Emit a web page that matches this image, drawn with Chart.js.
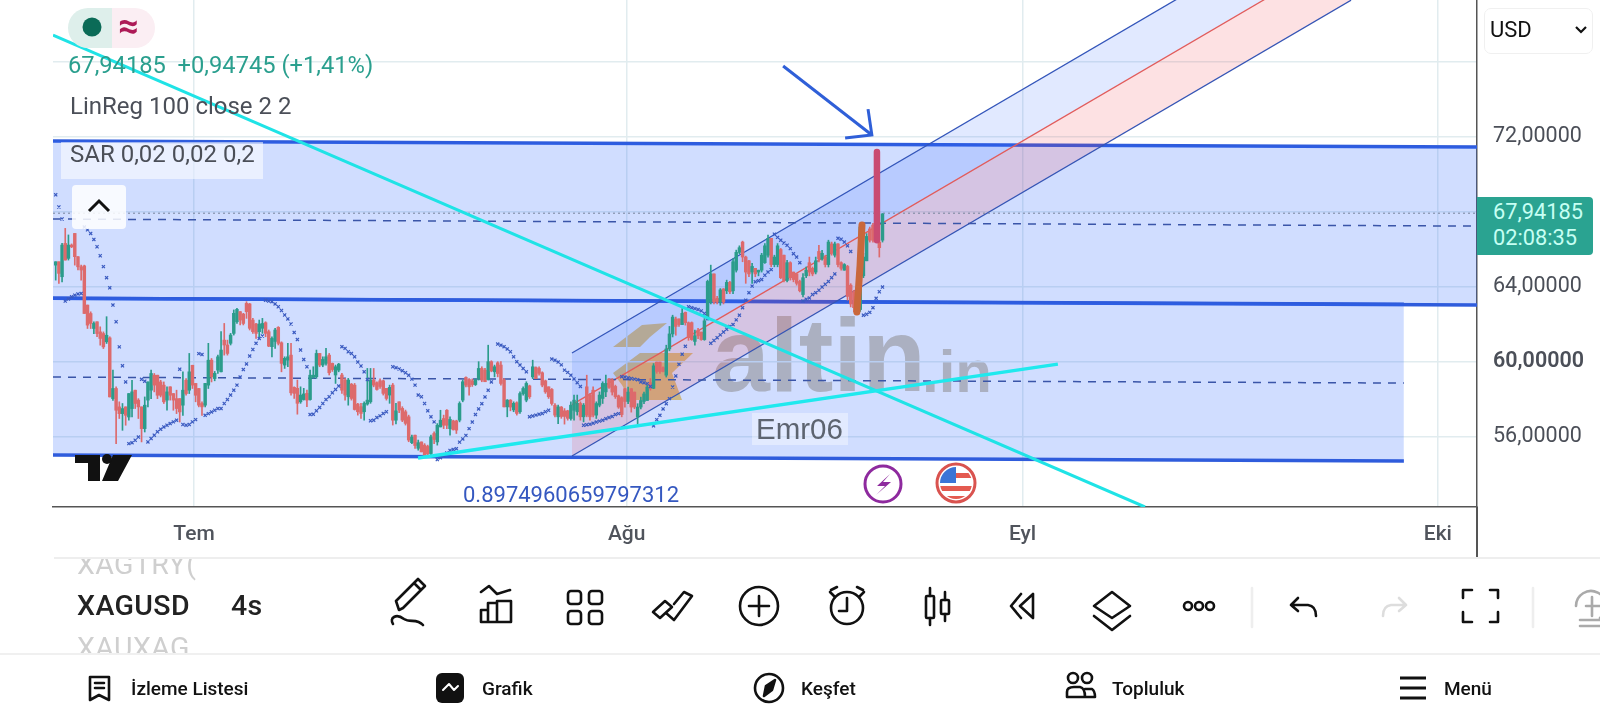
<!DOCTYPE html>
<html>
<head>
<meta charset="utf-8">
<title>XAGUSD</title>
<script src="https://cdn.jsdelivr.net/npm/chart.js@4/dist/chart.umd.min.js"></script>
<style>
html, body { margin: 0; padding: 0; background: #fff; }
#page { position: relative; width: 1600px; height: 720px; overflow: hidden; font-family: Roboto, sans-serif; background: #fff; }
#page > * { position: absolute; }
#chart { left: 0; top: 0; }
.t { white-space: pre; line-height: 1; transform: translateY(-50%); }
.nav { font-size: 19px; font-weight: 500; color: #111; }
.sym { font-size: 28.5px; font-weight: 500; color: #222; letter-spacing: .4px; }
.fade { color: #cfcfcf; font-weight: 400; }
</style>
</head>
<body>
<div id="page">
  <svg style="left:0;top:0" width="1600" height="720">
    <polygon points="613,347 642,325 667,323 650,337 640,347" fill="rgb(250,205,100)"/>
    <polygon points="613,373 640,353 693,353 672,373 682,400 630,400 622,385" fill="rgb(250,205,100)"/>
  </svg>
  <div class="t" style="left:712px;top:355px;font:bold 104px 'Liberation Sans';color:rgb(208,198,176)">altin</div>
  <div class="t" style="left:922px;top:371px;font:bold 60px 'Liberation Sans';color:rgb(208,198,176)">.in</div>

  <canvas id="chart" width="1600" height="720"></canvas>

  <!-- top left legend -->
  <svg style="left:0;top:0" width="170" height="50">
    <path d="M112 8 H88 a20 20 0 0 0 0 40 H112 Z" fill="#deefeb"/>
    <path d="M112 8 H135 a20 20 0 0 1 0 40 H112 Z" fill="#fbeef3"/>
    <circle cx="92" cy="27" r="9.5" fill="#0b6b57"/>
  </svg>
  <div class="t" style="left:118px;top:26px;font-size:36px;font-weight:700;color:#ad1a57">≈</div>
  <div class="t" style="left:68px;top:66px;font-size:23.7px;color:#2a9f8e">67,94185  +0,94745 (+1,41%)</div>
  <div class="t" style="left:70px;top:106px;font-size:24px;color:#4b4f58">LinReg 100 close 2 2</div>
  <div style="left:61px;top:142px;width:202px;height:37px;background:rgba(255,255,255,.55)"></div>
  <div class="t" style="left:70px;top:154px;font-size:24px;color:#4b4f58">SAR 0,02 0,02 0,2</div>
  <div style="left:72px;top:185px;width:54px;height:44px;border-radius:4px;background:rgba(255,255,255,.85)"></div>
  <svg style="left:72px;top:185px" width="54" height="44"><path d="M17 26 L27 16 L37 26" fill="none" stroke="#111" stroke-width="3"/></svg>

  <!-- currency box and last price -->
  <div style="left:1484px;top:8px;width:107px;height:44px;border:1px solid #f0f0f0;border-radius:7px"></div>
  <div class="t" style="left:1490px;top:30px;font-size:22px;color:#111">USD</div>
  <svg style="left:1574px;top:25px" width="14" height="10"><path d="M2 2 L7 7 L12 2" fill="none" stroke="#111" stroke-width="2.2"/></svg>
  <div style="left:1477px;top:197px;width:116px;height:58px;background:#2aa391;border-radius:0 4px 4px 0"></div>
  <div class="t" style="left:1493px;top:212px;font-size:21.8px;color:#c6fff3">67,94185</div>
  <div class="t" style="left:1493px;top:238px;font-size:21.8px;color:#c6fff3">02:08:35</div>
  <div style="left:1476px;top:507px;width:2px;height:51px;background:#555"></div>

  <!-- labels on the chart -->
  <div style="left:752px;top:413px;width:96px;height:32px;background:rgba(255,255,255,.38)"></div>
  <div class="t" style="left:756px;top:429px;font:29.5px 'Liberation Sans';color:#5d6470">Emr06</div>
  <div class="t" style="left:463px;top:495px;font-size:22px;color:#3558c0">0.8974960659797312</div>
  <svg style="left:0;top:0" width="1100" height="507">
    <path d="M75 455 H100 V481 H88 V463 H75 Z M102 481 L113 455 H132 L118 481 Z" fill="#111"/>
    <circle cx="107" cy="459" r="5" fill="#111"/>
    <circle cx="883" cy="484" r="18" fill="#fff" stroke="#8e2a9e" stroke-width="3"/>
    <path d="M890 474 L877 486 H885 L876 495 L891 482 H883 Z" fill="#8e2a9e"/>
    <clipPath id="flag"><circle cx="956" cy="483" r="16"/></clipPath>
    <circle cx="956" cy="483" r="19" fill="#fff" stroke="#d9534f" stroke-width="3"/>
    <g clip-path="url(#flag)">
      <rect x="940" y="467" width="32" height="32" fill="#fff"/>
      <rect x="956" y="473" width="16" height="5" fill="#e45a50"/>
      <rect x="940" y="486" width="32" height="5" fill="#e45a50"/>
      <rect x="940" y="496" width="32" height="5" fill="#e45a50"/>
      <rect x="940" y="467" width="16" height="16" fill="#3b74d6"/>
    </g>
  </svg>

  <!-- symbol strip -->
  <div style="left:54px;top:557px;width:1546px;height:2px;background:#eee"></div>
  <div style="left:0;top:653px;width:1600px;height:2px;background:#f0f0f0"></div>
  <div style="left:0;top:559px;width:240px;height:94px;overflow:hidden">
    <div class="t sym fade" style="position:absolute;left:77px;top:6px">XAGTRY(</div>
    <div class="t sym" style="position:absolute;left:77px;top:47px">XAGUSD</div>
    <div class="t sym fade" style="position:absolute;left:77px;top:89px">XAUXAG</div>
  </div>
  <div class="t sym" style="left:231px;top:606px">4s</div>

  <!-- toolbar and bottom nav icons -->
  <svg style="left:0;top:0" width="1600" height="720" fill="none" stroke="#111" stroke-width="2.6" stroke-linecap="round" stroke-linejoin="round">
    <path d="M399 610 L396 601 L418 579 L425 586 L403 608 Z M414 583 L421 590"/>
    <path d="M393 624 C389 618 396 613 404 619 C410 623 417 618 423 625"/>
    <path d="M481 592 L489 586 L497 594 L510 590 M481 622 V610 H488 V622 Z M488 622 V603 H497 V622 M497 622 V601 H511 V622 H481"/>
    <rect x="568" y="591" width="13" height="13" rx="3"/><rect x="589" y="591" width="13" height="13" rx="3"/>
    <rect x="568" y="611" width="13" height="13" rx="3"/><rect x="589" y="611" width="13" height="13" rx="3"/>
    <path d="M653 612 L665 601 L672 607 L660 618 Z M666 613 L674 620 L692 596 L684 592 L674 604"/>
    <circle cx="759" cy="606" r="19"/><path d="M759 596 V616 M749 606 H769"/>
    <circle cx="847" cy="608" r="16"/><path d="M847 598 V611 H839 M831 590 L837 587 M863 590 L857 587 M830 592 L835 597 M864 592 L859 597"/>
    <rect x="926" y="596" width="8" height="22" rx="1"/><path d="M930 588 V596 M930 618 V625"/>
    <rect x="941" y="600" width="8" height="14" rx="1"/><path d="M945 592 V600 M945 614 V621"/>
    <path d="M1021 594 L1011 606 L1021 618 M1033 594 L1020 606 L1033 618 V594"/>
    <path d="M1112 592 L1130 606 L1112 618 L1094 606 Z M1094 616 L1112 630 L1130 616"/>
    <circle cx="1188" cy="606" r="4"/><circle cx="1199" cy="606" r="4"/><circle cx="1210" cy="606" r="4"/>
    <path d="M1291 605 L1298 598 M1291 605 L1298 611 M1291 605 H1308 Q1316 606 1316 616"/>
    <path d="M1406 605 L1399 598 M1406 605 L1399 611 M1406 605 H1391 Q1383 606 1383 616" stroke="#ddd"/>
    <path d="M1463 598 V590 H1472 M1490 590 H1498 V598 M1463 612 V622 H1472 M1498 612 V622 H1490"/>
    <path d="M1252 588 V627 M1533 588 V627" stroke="#eee"/>
    <path d="M1576 606 a15 15 0 1 1 24 12 M1580 620 H1600 M1580 626 H1600 M1586 606 H1600 M1592 597 V616" stroke="#aaa"/>
    <path d="M90 677 H109 V700 L99 695 L90 700 Z M95 683 H104 M95 688 H104"/>
    <rect x="436" y="673" width="28" height="30" rx="6" fill="#111" stroke="none"/>
    <path d="M443 690 L449 684 L454 690 L458 686" stroke="#fff" stroke-width="2"/>
    <circle cx="769" cy="688" r="14"/><path d="M775 680 L772 690 L764 696 L766 686 Z" fill="#111"/>
    <circle cx="1073" cy="678" r="5"/><circle cx="1087" cy="678" r="5"/>
    <path d="M1067 697 V692 Q1067 687 1074 687 H1080 Q1085 688 1085 697 Z M1085 689 H1092 Q1095 691 1095 697 H1085"/>
    <path d="M1400 678 H1426 M1400 688 H1426 M1400 698 H1426" stroke-width="3.2" stroke-linecap="butt"/>
  </svg>
  <div class="t nav" style="left:131px;top:688px">İzleme Listesi</div>
  <div class="t nav" style="left:482px;top:688px">Grafik</div>
  <div class="t nav" style="left:801px;top:688px">Keşfet</div>
  <div class="t nav" style="left:1112px;top:688px">Topluluk</div>
  <div class="t nav" style="left:1444px;top:688px">Menü</div>
</div>

<script>
// 4h candles of XAGUSD
const opens = [
  65.17,65.35,64.55,66.33,65.53,66.24,66.86,65.62,65.08,65.13,
  63.04,62.59,61.79,62.15,61.61,61.52,61.08,61.29,58.05,58.59,
  57.61,57.25,57.61,57.07,57.52,58.5,57.97,57.61,56.45,57.97,
  58.5,59.3,59.3,58.94,58.77,57.97,58.68,58.32,58.05,58.05,
  57.7,59.03,58.5,59.83,58.86,58.59,57.79,57.7,58.77,60.1,
  59.12,59.57,59.48,61.17,60.91,61,61.53,62.15,62.69,62.56,
  63.13,63.1,62.24,62.03,61.62,61.8,62.1,61.62,60.82,61.1,
  61.85,61.03,59.84,60.1,60.37,58.65,58.6,57.88,58,58.33,
  58,59.18,59.22,60.46,59.84,59.93,60.37,59.93,59.31,59.57,
  59.31,59.04,58.15,58.82,58.77,57.76,57.62,57.35,57.76,57.88,
  59.04,58.9,59,59,58.6,58.24,58.77,56.9,57.88,57.53,
  57.35,57.08,55.7,56.1,55.4,55.74,55.57,55.5,55.12,56.19,
  55.74,56.54,56.99,57.43,56.45,56.86,56.86,56.9,57.97,59.18,
  59.07,59,58.8,59.12,59.66,59.57,59.07,60.02,59.48,59.96,
  59.84,59.04,57.61,57.97,57.45,57.83,57.35,58.32,57.97,58.73,
  59.21,59.71,59.66,59.43,59,58.68,58.54,57.7,57.08,57.6,
  57.4,57.4,56.99,57.43,57.35,57.79,57.08,58.68,58.24,58.5,
  57.17,57.7,58.06,58.41,59.1,59.05,58.7,58.2,58.1,58.58,
  57.9,58.58,58.4,57.07,57.6,57.9,57.95,58.9,58.6,60,
  60,59.7,59.3,60.7,61.5,62.3,62.3,62,62.65,62.1,
  62.1,61.1,61.7,61.6,61.2,62.3,63.2,64.7,63.4,63.2,
  63.9,63.8,64.25,63.8,64.9,65.85,66.4,65.6,65.4,64.8,
  65,64.8,64.9,65.3,65.7,66.6,65.2,65.2,66,65.7,
  64.35,65.3,64.8,64.7,64.3,63.6,64.6,65.3,65,64.8,
  65.9,65.5,65.6,65.2,66.3,65.7,66.3,65.3,64.9,65.1,
  64.1,63.75,63.4,62.8,64.6,65.4,67.1,67.3,67.1,66.4,
  66.5
];
const highs = [
  65.35,65.35,66.33,67.13,66.78,66.3,66.86,65.62,65.17,65.17,
  63.04,62.68,62.15,62.15,61.88,61.61,62.42,61.35,59.57,58.68,
  57.88,57.79,57.61,58.32,59.03,58.5,58.05,57.61,58.14,58.94,
  59.57,59.39,59.3,59.03,58.94,58.68,58.68,58.32,58.5,58.05,
  59.48,59.12,60.46,59.83,58.86,58.59,57.88,58.86,61,60.19,
  59.5,60.37,61.62,62.06,61.17,61.53,62.78,62.86,62.69,62.6,
  63.22,63.13,62.33,62.06,62.24,62.33,62.15,61.71,61.35,61.8,
  61.89,61.08,60.28,61,61,58.68,59.04,58.68,58.6,58.5,
  59.57,59.75,60.64,60.46,60.28,60.73,60.46,59.95,59.84,59.93,
  59.4,59.13,59.13,58.86,58.86,57.8,57.8,57.88,59.66,59.66,
  59.66,58.95,59.1,59.04,58.6,58.77,58.86,57.8,57.88,57.62,
  57.44,57.17,56.1,56.1,55.84,55.74,55.65,55.57,56.1,56.28,
  56.72,57.43,57.17,57.47,57.08,56.9,56.9,57.88,59.04,59.21,
  59.12,59.1,59.1,60.02,59.75,59.66,60.9,60.07,59.84,60.02,
  60.02,59.12,58,58,57.88,57.88,58.41,58.68,58.95,58.77,
  60.1,59.75,59.75,59.48,59.04,58.68,58.59,57.79,57.7,57.63,
  57.52,57.43,57.88,58.24,58.24,57.88,57.79,59.3,58.32,58.68,
  57.88,58.41,58.95,59.3,59.12,59.12,58.77,58.24,58.15,58.58,
  58.67,58.58,58.4,57.78,58.13,58.4,58.76,59.12,59.92,60,
  60,59.74,60.9,61.9,62.5,62.4,62.3,62.85,62.67,62.14,
  62.14,61.7,61.8,61.6,62.32,64.37,65.17,64.7,63.5,63.92,
  63.92,64.37,64.3,65.52,65.97,66.2,66.45,65.65,65.43,65.26,
  65,64.9,65.8,66.32,66.77,66.6,65.7,66.32,66.06,65.7,
  65.43,65.35,64.8,64.72,64.37,64.72,65.07,65.6,65.07,65.6,
  66.23,65.96,65.7,66.5,66.4,66.4,66.32,65.34,65.25,65.16,
  64.18,63.83,63.5,67.4,65.8,66.85,67.2,67.4,67.1,66.5,
  67.92
];
const lows = [
  64.37,64.19,64.28,65.44,65.44,66.1,65.17,64.91,64.37,62.59,
  61.79,61.79,61.52,61.35,60.9,60.72,60.99,58.14,57.96,55.65,
  56.99,56.36,56.63,56.9,57.07,57.52,56.99,55.74,56.27,57.61,
  58.05,58.41,58.05,58.14,57.79,57.43,57.97,57.43,57.25,56.8,
  57.16,58.23,58.32,58.59,57.88,57.61,57.16,57.61,58.59,58.94,
  59,59.39,59.48,60.37,60.37,60.91,61.44,62.06,61.98,61.98,
  62.33,61.71,61.53,61.26,61.26,61.53,61.35,60.82,60.28,60.73,
  60.91,59.48,59.66,59.75,58.24,58.06,57.22,57.8,57.97,57.62,
  57.97,59.13,59.13,59.75,59.75,59.84,59.31,59.5,58.86,59.48,
  58.33,57.97,57.7,57.97,57.44,57.17,57,56.9,57.7,57.8,
  58.68,58.5,58.6,58.24,57.97,57.8,56.64,56.7,57.3,56.82,
  56.64,55.75,55.65,55.4,55.3,55.21,54.94,55.03,55.03,55.65,
  55.57,56.54,56.45,56.45,56.1,56.37,56.19,56.81,57.88,58.68,
  58.24,58.7,58.75,59.04,58.95,58.95,59.04,59.48,59.21,59.21,
  58.77,57.61,57.08,57.4,57.35,57.17,57.26,58.24,57.88,58.06,
  59.12,59.12,59.3,58.68,58.33,58.06,57.7,57.08,56.72,57,
  56.69,56.9,56.9,56.9,57.17,56.9,56.81,57.08,56.9,57.08,
  56.99,57.61,57.79,58.15,58.59,58.24,58.06,57.53,57.08,57.6,
  57.78,57.33,57.51,56.71,57.5,57.78,57.96,58.5,58.58,59.4,
  59.4,59.47,59.2,60.6,61.34,61.43,61.9,62,61.97,61.16,
  61.16,60.9,61.25,61.16,61.16,62.24,63.1,63.1,63.1,63.03,
  63.1,63.65,63.65,63.65,64.8,65.77,65.35,64.2,64.55,64.2,
  64.55,64.6,64.8,65.26,65.6,65.08,65.08,65.08,64.45,64.28,
  64.28,64.37,64.28,64.1,63.74,63.47,64.5,64.6,64.6,64.7,
  65.34,65.43,65.07,65.07,65.7,65.6,65.07,64.9,64.9,63.3,
  62.94,62.67,62.67,62.7,64.5,65.4,66.4,66.4,66.5,65.6,
  66.4
];
const closes = [
  65.35,64.73,66.24,65.44,66.24,66.15,65.62,65.08,64.91,62.59,
  61.97,62.06,62.06,61.52,61.26,60.81,61.43,58.14,58.59,57.43,
  57.25,57.52,57.16,58.32,58.41,57.79,57.61,56.45,57.7,58.94,
  59.39,58.77,58.23,58.23,57.88,58.41,58.23,57.97,57.52,57.34,
  58.5,58.32,59.48,58.77,58.23,57.7,57.61,58.86,60.1,59.21,
  59.4,60.28,60.64,60.91,60.46,61.44,62.6,62.81,62.24,62.06,
  62.69,61.8,61.62,61.53,62.03,62.06,61.53,60.85,61.26,61.71,
  61,59.93,60.2,60.28,58.36,58.33,57.8,58.24,58.3,57.97,
  59.3,59.3,60.46,59.84,60.14,60.28,59.43,59.6,59.75,59.89,
  58.5,58.24,59.04,58.06,57.47,57.35,57.26,57.8,57.97,59.04,
  58.77,58.54,58.7,58.33,58.06,58.65,56.9,57.4,57.44,56.9,
  56.73,55.84,56,55.55,55.7,55.21,55.03,55.1,56.01,55.87,
  56.63,56.9,56.63,56.63,56.94,56.4,56.37,57.79,58.95,58.77,
  58.68,58.8,59.05,59.66,59.04,58.95,60.02,59.53,59.75,59.39,
  58.86,57.61,57.97,57.6,57.8,57.26,58.32,58.59,58.86,58.15,
  59.75,59.12,59.4,58.77,58.41,58.15,57.79,57.17,57.61,57.1,
  57.1,57,57.7,57.97,57.8,57.08,57.7,57.17,57.08,57.17,
  57.79,58.24,58.86,58.86,58.65,58.4,58.15,57.6,57.2,57.9,
  58.4,57.6,57.6,57.6,57.95,58.3,58.67,58.6,59.8,59.5,
  59.5,59.5,60.7,61.5,62.4,61.9,62,62.6,62.1,61.3,
  61.2,61.4,61.4,61.2,62.2,64.3,64.7,63.2,63.2,63.85,
  63.2,64.25,63.75,65.35,65.85,66.1,65.6,64.8,64.7,65.1,
  64.7,64.9,65.7,66.2,66.6,65.2,65.6,66.2,64.5,64.35,
  65.3,64.5,64.4,64.2,63.8,64.5,64.9,64.8,64.7,65.4,
  65.5,65.8,65.2,66.4,65.8,66.3,65.2,65,65.2,63.5,
  63.1,62.9,62.8,67.2,65.6,66.7,66.5,66.5,66.7,66.1,
  67.9
];

// parabolic SAR runs: first bar, then one value per bar
const sarRuns = [
  [0, [68.92,68.27,67.63]],
  [3, [63.25,63.36,63.48,63.57,63.63,63.66]],
  [9, [67.2,67.05,66.86,66.54,66.15,65.67,65.09,64.5,63.96,63.04,62.15,60.81,59.8,58.94]],
  [23, [55.65,55.7,55.83,56]],
  [27, [59.08,58.98]],
  [29, [55.74,55.92,56.1,56.28,56.42,56.54,56.63,56.72,56.81,56.9]],
  [39, [59.62]],
  [40, [56.67,56.63,56.67,56.81,56.93]],
  [45, [60.45,60.4]],
  [47, [57.16,57.25,57.34,57.43,57.52,57.52,57.79,58,58.24,58.5,58.77,59.2,59.6,59.9,60.32,60.67,61,61.26,61.39]],
  [66, [63.3,63.25,63.22,63.1,62.95,62.75,62.51,62.3,62.03,61.58,61.2,60.64,60.14,59.75]],
  [80, [57.2,57.22,57.4,57.58,57.79,58,58.15,58.36,58.54,58.72]],
  [90, [60.82,60.73,60.55,60.46,60.28,60,59.79,59.48,59.07]],
  [99, [56.87,56.9,57.04,57.13,57.26,57.35]],
  [106, [59.75,59.7,59.63,59.54,59.43,59.3,59.09,58.77,58.24,58.15,57.79,57.4,57.08,56.81]],
  [120, [54.8,54.9,55,55.15,55.29,55.34,55.38,55.73,55.9,56.09,56.45,56.8,57.2,57.5,57.78,58.14,58.5,58.94]],
  [139, [60.96,60.9,60.82,60.7,60.55,60.28,60.02,59.84,59.66,59.48]],
  [149, [57.08,57.12,57.17,57.22,57.26,57.35,57.43]],
  [156, [60.16,60.1,60,59.85,59.57,59.45,59.3,59.1,58.9,58.7]],
  [166, [56.63,56.66,56.68,56.74,56.8,56.85,56.9,56.98,57.04,57.1,57.2,57.25]],
  [178, [59.22,59.2,59.16,59.12,59.09,59.06,58.94,58.9,58.85,58.7]],
  [188, [56.6,56.93,57.16,57.5,57.78,58.05,58.67,59.26,59.88,60.42,60.84]],
  [199, [62.95,62.9,62.85,62.8,62.73,62.59,62.32]],
  [206, [61,61.15,61.3,61.45,61.6,61.75,61.9,62,62.25,62.5,62.9,63.3,63.7,64.05,64.28,64.34,64.4,64.63,64.8,64.93]],
  [226, [66.82,66.65,66.5,66.35,66.23,66.05,65.78,65.6,65.3]],
  [235, [63.26,63.35,63.42,63.6,63.7,63.83,64,64.15,64.3,64.5,64.7]],
  [246, [66.6,66.55,66.4,66.2,65.9]],
  [254, [62.5,62.55,62.65,62.9,63.4,63.75,64]]
];

// drawings: x is in bars from the left edge of the plot, y is price
const rectX = [0, 447.8];
const rectShortX = [0, 424.8];
const rectTop = [71.79, 71.47];
const rectMid = [63.41, 63.04];
const rectMidShort = [63.41, 63.09];
const rectLow = [55.04, 54.72];
const dashUpper = [67.63, 67.25];
const dashLower = [59.2, 58.88];
const lastPrice = [67.94, 67.94];

const channelX = [163.2, 408.2];
const channelUpper = [60.48, 84.79];
const channelMid = [57.73, 82.04];
const channelLower = [54.99, 79.3];

const trendDownX = [0, 343.4];
const trendDownY = [77.44, 52.27];
const trendUpX = [114.8, 316];
const trendUpY = [54.88, 59.89];

const arrowShaftX = [229.6, 257.5];
const arrowShaftY = [75.79, 72.11];
const arrowHeadX = [256.3, 257.5, 249.1];
const arrowHeadY = [73.49, 72.11, 71.95];
const redPenX = [259.1, 259.1];
const redPenY = [71.2, 66.5];
const orangePenX = [254.4, 253.8, 252.8];
const orangePenY = [67.31, 65.17, 62.67];

const priceTicks = [56, 60, 64, 68, 72, 76];
const priceLabels = [56, 60, 64, 72];
const monthLabels = ['Tem', 'Ağu', 'Eyl', 'Eki'];
const monthBars = [44.34, 180.4, 304.9, 435.5];

const barOffset = 0.85;
const up = '#2b9c8b';
const down = '#dd6a6c';
const blue = '#2f5cdc';

function line(xs, ys, style) {
    return Object.assign({
        type: 'line',
        data: xs.map((x, i) => ({x: x, y: ys[i]})),
        pointRadius: 0,
        tension: 0,
        fill: false
    }, style);
}

const barColors = closes.map((c, i) => c >= opens[i] ? up : down);

const sarData = [];
sarRuns.forEach(run => {
    run[1].forEach((v, i) => sarData.push({x: run[0] + i + barOffset, y: v}));
});

const datasets = [
    // 0-3 blue boxes
    line(rectX, rectTop, {borderColor: blue, borderWidth: 3.5, order: 20}),
    line(rectX, rectMid, {borderColor: blue, borderWidth: 3.5, order: 19, fill: 0, backgroundColor: 'rgba(41,98,255,0.22)'}),
    line(rectShortX, rectMidShort, {borderColor: blue, borderWidth: 3.5, order: 18}),
    line(rectShortX, rectLow, {borderColor: blue, borderWidth: 3.5, order: 17, fill: 2, backgroundColor: 'rgba(41,98,255,0.22)'}),
    // 4-6 regression channel
    line(channelX, channelUpper, {borderColor: '#3555b5', borderWidth: 1.3, order: 16}),
    line(channelX, channelMid, {borderColor: '#e0605f', borderWidth: 1.3, order: 15, fill: 4, backgroundColor: 'rgba(41,98,255,0.14)'}),
    line(channelX, channelLower, {borderColor: '#3555b5', borderWidth: 1.3, order: 14, fill: 5, backgroundColor: 'rgba(242,54,69,0.15)'}),
    // level lines
    line(rectX, lastPrice, {borderColor: '#76839a', borderWidth: 1, borderDash: [2, 3], order: 13}),
    line(rectX, dashUpper, {borderColor: '#3a55a8', borderWidth: 1.5, borderDash: [8, 7], order: 12}),
    line(rectShortX, dashLower, {borderColor: '#3a55a8', borderWidth: 1.5, borderDash: [8, 7], order: 11}),
    // candles
    {
        type: 'bar',
        data: lows.map((v, i) => ({x: i + barOffset, y: [v, highs[i]]})),
        backgroundColor: barColors,
        barThickness: 1,
        grouped: false,
        order: 10
    },
    {
        type: 'bar',
        data: opens.map((v, i) => ({x: i + barOffset, y: [v, closes[i]]})),
        backgroundColor: barColors,
        barThickness: 2.8,
        grouped: false,
        order: 9
    },
    {
        type: 'line',
        data: sarData,
        showLine: false,
        pointStyle: 'crossRot',
        pointRadius: 2.2,
        pointBorderWidth: 1.2,
        pointBorderColor: '#3a5ac0',
        order: 8
    },
    line(trendDownX, trendDownY, {borderColor: '#1fe3e6', borderWidth: 3, order: 7}),
    line(trendUpX, trendUpY, {borderColor: '#1fe9ee', borderWidth: 3.5, order: 6}),
    line(orangePenX, orangePenY, {borderColor: '#c9683c', borderWidth: 7, borderCapStyle: 'round', order: 5}),
    line(redPenX, redPenY, {borderColor: '#c94b72', borderWidth: 6.5, borderCapStyle: 'round', order: 4}),
    line(arrowShaftX, arrowShaftY, {borderColor: '#2f5fd8', borderWidth: 3, order: 3}),
    line(arrowHeadX, arrowHeadY, {borderColor: '#2f5fd8', borderWidth: 3, order: 2})
];

function noPadding(axis) {
    axis.paddingTop = 0;
    axis.paddingBottom = 0;
    axis.paddingLeft = 0;
    axis.paddingRight = 0;
}

const config = {
    type: 'bar',
    data: {datasets: datasets},
    options: {
        responsive: false,
        animation: false,
        devicePixelRatio: 1,
        layout: {autoPadding: false, padding: {left: 53, top: 0, right: 0, bottom: 0}},
        plugins: {legend: {display: false}, tooltip: {enabled: false}, title: {display: false}},
        scales: {
            x: {
                type: 'linear',
                offset: false,
                min: 0,
                max: 447.8,
                afterBuildTicks: axis => { axis.ticks = monthBars.map(v => ({value: v})); },
                afterFit: axis => { axis.height = 213; noPadding(axis); },
                grid: {color: '#e1ecef', lineWidth: 1.5, drawTicks: false, offset: false},
                border: {color: '#555', width: 1.5},
                ticks: {
                    autoSkip: false,
                    maxRotation: 0,
                    padding: 15,
                    color: '#50545c',
                    font: {family: 'Roboto', size: 21, weight: '500'},
                    callback: value => monthLabels[monthBars.indexOf(value)]
                }
            },
            y: {
                position: 'right',
                min: 52.27,
                max: 79.31,
                afterBuildTicks: axis => { axis.ticks = priceTicks.map(v => ({value: v})); },
                afterFit: axis => { axis.width = 123; noPadding(axis); },
                grid: {color: '#e1ecef', lineWidth: 1.5, drawTicks: false},
                border: {color: '#555', width: 1.5},
                ticks: {
                    padding: 16,
                    color: '#4b4f58',
                    font: ctx => ({family: 'Roboto', size: 21.5, weight: ctx.tick && ctx.tick.value === 60 ? '600' : '400'}),
                    callback: value => priceLabels.includes(value) ? value.toFixed(5).replace('.', ',') : ''
                }
            }
        }
    }
};

const chart = new Chart(document.getElementById('chart').getContext('2d'), config);
</script>
</body>
</html>
